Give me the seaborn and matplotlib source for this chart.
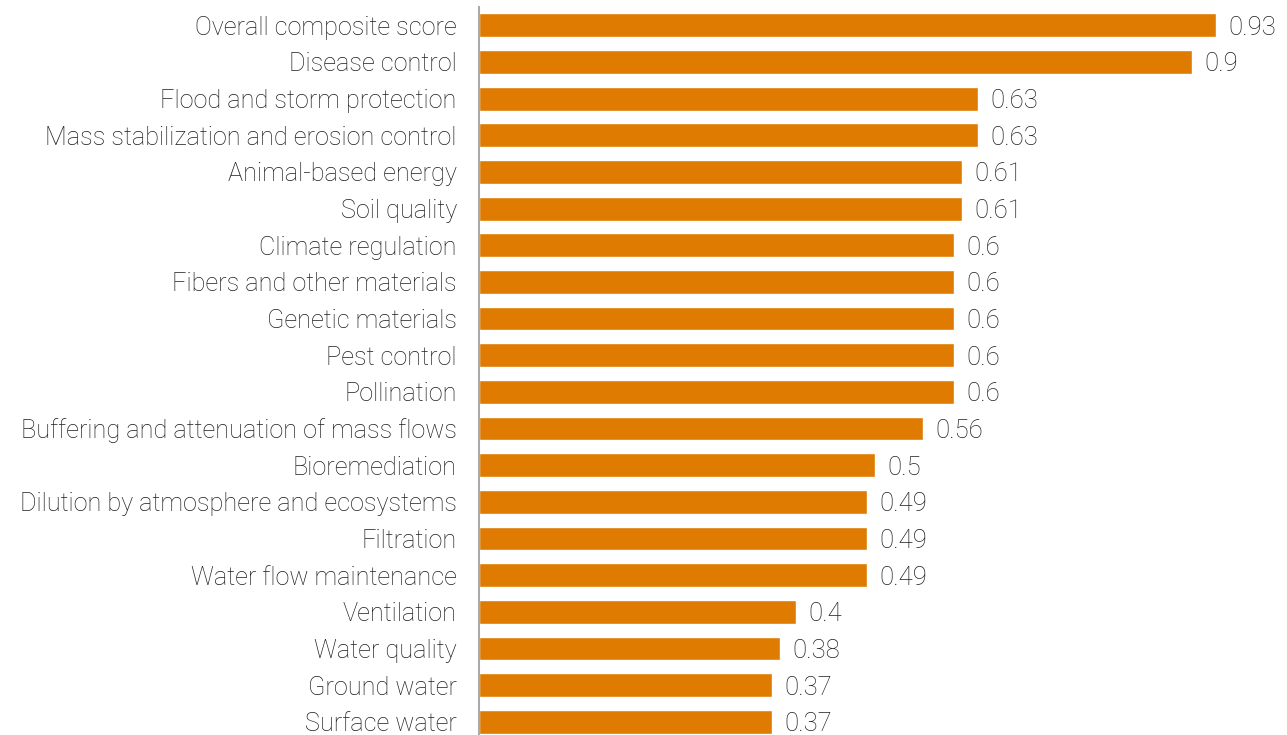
import matplotlib
matplotlib.use("Agg")
import matplotlib.pyplot as plt
import seaborn as sns
import pandas as pd

categories = [
    "Overall composite score", "Disease control", "Flood and storm protection",
    "Mass stabilization and erosion control", "Animal-based energy", "Soil quality",
    "Climate regulation", "Fibers and other materials", "Genetic materials",
    "Pest control", "Pollination", "Buffering and attenuation of mass flows",
    "Bioremediation", "Dilution by atmosphere and ecosystems", "Filtration",
    "Water flow maintenance", "Ventilation", "Water quality", "Ground water",
    "Surface water",
]
values = [0.93, 0.9, 0.63, 0.63, 0.61, 0.61, 0.6, 0.6, 0.6, 0.6, 0.6, 0.56,
          0.5, 0.49, 0.49, 0.49, 0.4, 0.38, 0.37, 0.37]
value_labels = ["0.93", "0.9", "0.63", "0.63", "0.61", "0.61", "0.6", "0.6", "0.6",
                "0.6", "0.6", "0.56", "0.5", "0.49", "0.49", "0.49", "0.4", "0.38",
                "0.37", "0.37"]

sns.set_theme(style="white")
plt.rcParams["font.family"] = ["Roboto", "DejaVu Sans"]

df = pd.DataFrame({"category": categories, "value": values})

fig = plt.figure(figsize=(12.87, 7.35), dpi=100)
ax = fig.add_axes([479 / 1287, 0.0, 1 - 479 / 1287, 1 - 7 / 735])

sns.barplot(data=df, y="category", x="value", color="#DE7B00", saturation=1,
            width=0.65, orient="h", ax=ax)

texts = ax.bar_label(ax.containers[0], labels=value_labels, padding=9,
                     fontsize=18.5, fontweight="light", color="#1e1e1e")
for t in texts:
    t.set_va("center_baseline")

ax.set_xlim(0, 1.02)
ax.set_ylim(19.36, -0.5)
ax.set_xlabel("")
ax.set_ylabel("")
ax.set_xticks([])
ax.tick_params(axis="y", length=0, pad=16, labelsize=18.2, labelcolor="#1e1e1e")
for lab in ax.get_yticklabels():
    lab.set_fontweight("light")
for s in ["top", "right", "bottom"]:
    ax.spines[s].set_visible(False)
ax.spines["left"].set_color("#AAAAAA")
ax.spines["left"].set_linewidth(1.5)

fig.savefig("out.png", dpi=100)
